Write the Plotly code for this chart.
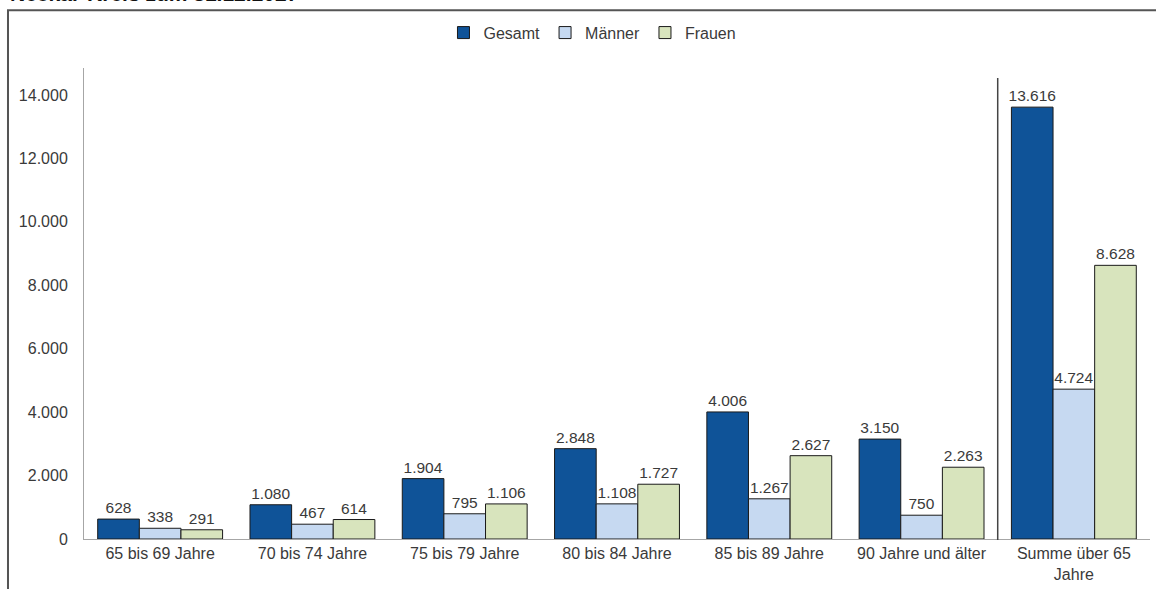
import plotly.graph_objects as go

categories = ["65 bis 69 Jahre", "70 bis 74 Jahre", "75 bis 79 Jahre", "80 bis 84 Jahre",
              "85 bis 89 Jahre", "90 Jahre und älter", "Summe über 65<br>Jahre"]
gesamt = [628, 1080, 1904, 2848, 4006, 3150, 13616]
maenner = [338, 467, 795, 1108, 1267, 750, 4724]
frauen = [291, 614, 1106, 1727, 2627, 2263, 8628]
y_ticks = [0, 2000, 4000, 6000, 8000, 10000, 12000, 14000]

FONT = "Arial, Liberation Sans, sans-serif"
TXT = "#3a3a3a"

series = [("Gesamt", gesamt, "#0f5398"), ("Männer", maenner, "#c6d9f1"), ("Frauen", frauen, "#d8e4bd")]

fig = go.Figure()
for name, vals, col in series:
    fig.add_trace(go.Bar(
        x=categories, y=vals, name=name,
        marker=dict(color=col, line=dict(color="#1a1a1a", width=1)),
        text=vals, texttemplate="%{y:,}", textposition="outside",
        textfont=dict(family=FONT, size=15.5, color=TXT),
        cliponaxis=False, constraintext="none",
    ))

fig.update_layout(
    width=1156, height=589,
    margin=dict(l=84, r=6, t=68, b=48),
    paper_bgcolor="white", plot_bgcolor="white",
    separators=",.",
    barmode="group", bargap=0.18, bargroupgap=0,
    font=dict(family=FONT, size=16, color=TXT),
    showlegend=True,
    legend=dict(orientation="h", x=0.477, xanchor="center", y=1.075, yanchor="middle",
                font=dict(family=FONT, size=16, color=TXT), itemwidth=30,
                traceorder="normal", bgcolor="rgba(0,0,0,0)"),
    xaxis=dict(showline=True, linecolor="#a6a6a6", linewidth=1, showgrid=False,
               ticks="", tickfont=dict(family=FONT, size=16, color=TXT)),
    yaxis=dict(range=[0, 14850], tickvals=y_ticks, tickformat=",", showline=True,
               linecolor="#a6a6a6", linewidth=1, showgrid=False, zeroline=False,
               ticks="", ticklabelstandoff=12,
               tickfont=dict(family=FONT, size=16, color=TXT)),
    shapes=[
        dict(type="rect", xref="paper", yref="paper", x0=-0.0713, x1=1.03, y0=-0.2, y1=1.1226,
             line=dict(color="#555555", width=2), fillcolor="rgba(0,0,0,0)", layer="below"),
        dict(type="line", xref="x", yref="paper", x0=5.5, x1=5.5, y0=-0.002, y1=0.979,
             line=dict(color="#444444", width=1.5)),
    ],
    annotations=[
        dict(text="<b>Neckar-Kreis zum 31.12.2027</b>", xref="paper", yref="paper",
             x=-0.0713, xanchor="left", y=1.13, yanchor="bottom", showarrow=False,
             font=dict(family=FONT, size=21, color="#111111")),
    ],
)

fig.write_html("out.html")
